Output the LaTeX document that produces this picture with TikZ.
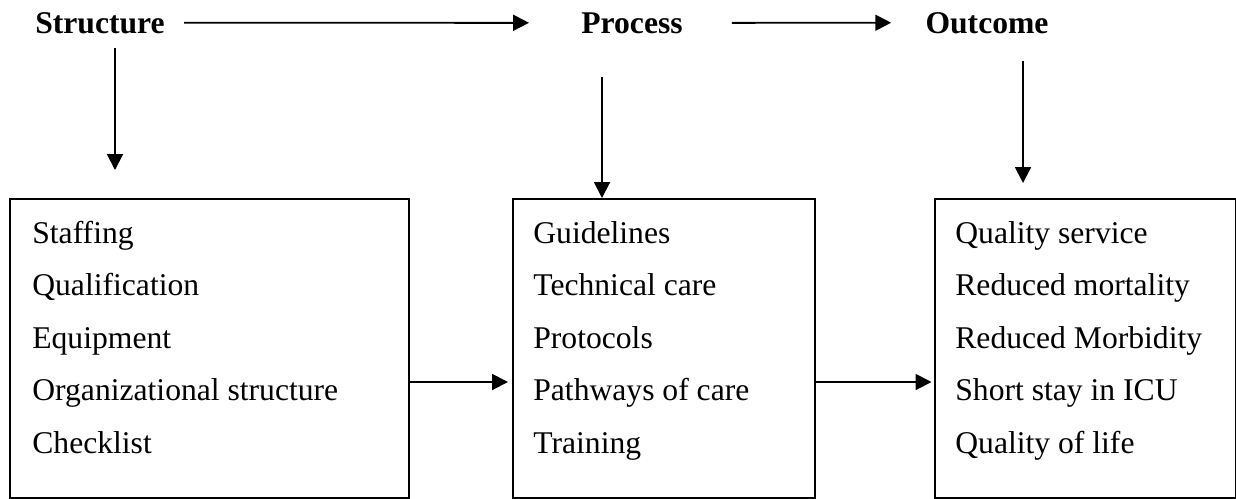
\documentclass[tikz,border=0pt]{standalone}
\usepackage{fontspec}
\setmainfont{Liberation Serif}
\usetikzlibrary{arrows.meta}

\begin{document}
\begin{tikzpicture}[x=0.02cm, y=-0.02cm,
  every node/.style={font=\fontsize{18}{29.8}\selectfont},
  title/.style={font=\fontsize{18}{22}\selectfont\bfseries, anchor=base, inner sep=0pt},
  box/.style={draw, line width=1pt, anchor=north west, minimum height=5.98cm, inner sep=0pt},
  list/.style={anchor=base west, align=left, inner sep=0pt},
  arr/.style={line width=1.1pt, -{Triangle[length=9pt, width=9pt]}}]
\useasboundingbox (0,0) rectangle (1236,498);
\node[title] (struct) at (100,33) {Structure};
\node[title] (proc) at (632,33) {Process};
\node[title] (outc) at (987,33) {Outcome};
\node[box, minimum width=7.98cm] (sbox) at (9,198) {};
\node[box, minimum width=6.04cm] (pbox) at (512,198) {};
\node[box, minimum width=6.02cm] (obox) at (934,198) {};
\node[list] (slist) at (32,453) {Staffing\\Qualification\\Equipment\\Organizational structure\\Checklist};
\node[list] (plist) at (533,453) {Guidelines\\Technical care\\Protocols\\Pathways of care\\Training};
\node[list] (olist) at (955,453) {Quality service\\Reduced mortality\\Reduced Morbidity\\Short stay in ICU\\Quality of life};
\coordinate (sdown) at (115,48);
\coordinate (pdown) at (602,77);
\coordinate (odown) at (1023,61);
\coordinate (mid) at (0,382);
\draw[arr, shorten <=0.38cm, shorten >=1.04cm] (struct.east) -- (proc.west);
\draw[arr, shorten <=0.98cm, shorten >=0.68cm] (proc.east) -- (outc.west);
\draw[arr, shorten >=0.56cm] (sdown) -- (sdown |- sbox.north);
\draw[arr] (pdown) -- (pdown |- pbox.north);
\draw[arr, shorten >=0.3cm] (odown) -- (odown |- obox.north);
\draw[arr, shorten >=0.08cm] (sbox.east |- mid) -- (pbox.west |- mid);
\draw[arr, shorten >=0.05cm] (pbox.east |- mid) -- (obox.west |- mid);
\end{tikzpicture}
\end{document}
